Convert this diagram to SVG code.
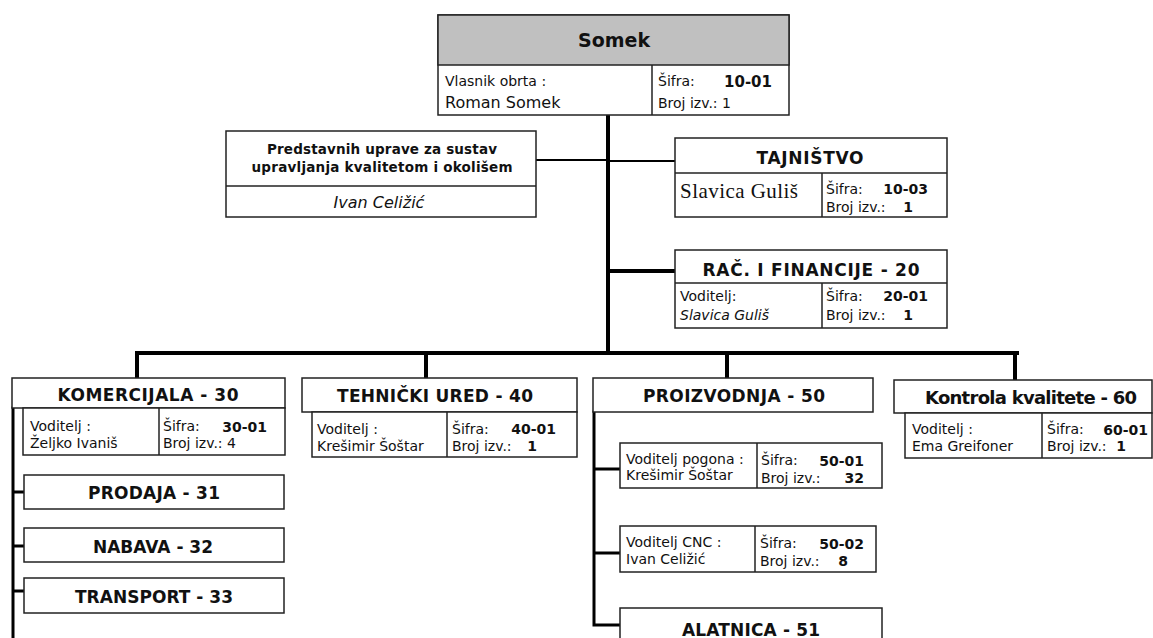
<svg xmlns="http://www.w3.org/2000/svg" width="1153" height="638" viewBox="0 0 1153 638">
<style>
.b{fill:#fff;stroke:#222;stroke-width:1.5}
.ln{fill:none;stroke:#222;stroke-width:1.5}
.c{fill:none;stroke:#000;stroke-linecap:square}
.w4{stroke-width:4}
.w3{stroke-width:3}
.w2{stroke-width:2}
text{font-family:"DejaVu Sans",Verdana,sans-serif;fill:#111}
.h{font-size:17px;font-weight:bold;text-anchor:middle}
.s{font-size:14px}
.k{font-size:14px;font-weight:bold;text-anchor:end}
</style>
<g id="connectors">
<path class="c w4" d="M608 115V353M137 353H1017M137 353V378M426 353V378M727 353V378M1015 353V380M608 271H675"/>
<path class="c w2" d="M536 160H608M608 161H675"/>
<path class="c w3" d="M13 408V638M13 492H24M13 546H24M13 591H24M594 412V625H620M594 469H620M594 553H620"/>
</g>
<g id="somek">
<rect x="438" y="15" width="351" height="100" class="b"/>
<rect x="438" y="15" width="351" height="50" fill="#c0c0c0" stroke="#222" stroke-width="1.5"/>
<line x1="652" y1="65" x2="652" y2="115" class="ln"/>
<text x="614" y="47" class="h" style="font-size:19px">Somek</text>
<text x="445" y="86" class="s">Vlasnik obrta :</text>
<text x="445" y="108" style="font-size:16px">Roman Somek</text>
<text x="658" y="86" class="s">Šifra:</text>
<text x="772" y="87" class="k" style="font-size:15px">10-01</text>
<text x="658" y="108" class="s">Broj izv.: 1</text>
</g>
<g id="predstavnik">
<rect x="226" y="131" width="310" height="86" class="b"/>
<line x1="226" y1="186" x2="536" y2="186" class="ln"/>
<text x="382" y="154" class="h" style="font-size:13.5px" textLength="230">Predstavnih uprave za sustav</text>
<text x="382" y="172" class="h" style="font-size:13.5px" textLength="261">upravljanja kvalitetom i okolišem</text>
<text x="379" y="208" style="font-size:16px;font-style:italic;text-anchor:middle">Ivan Celižić</text>
</g>
<g id="tajnistvo">
<rect x="675" y="138" width="272" height="79" class="b"/>
<line x1="675" y1="173" x2="947" y2="173" class="ln"/>
<line x1="822" y1="173" x2="822" y2="217" class="ln"/>
<text x="810" y="164" class="h" textLength="107">TAJNIŠTVO</text>
<text x="680" y="198" style="font-family:'Liberation Serif',serif;font-size:21px" textLength="118">Slavica Guliš</text>
<text x="826" y="194" class="s">Šifra:</text>
<text x="928" y="194" class="k">10-03</text>
<text x="826" y="212" class="s">Broj izv.:</text>
<text x="913" y="212" class="k">1</text>
</g>
<g id="racunovodstvo">
<rect x="675" y="250" width="272" height="78" class="b"/>
<line x1="675" y1="283" x2="947" y2="283" class="ln"/>
<line x1="822" y1="283" x2="822" y2="328" class="ln"/>
<text x="811" y="276" class="h" textLength="217">RAČ. I  FINANCIJE - 20</text>
<text x="680" y="301" class="s">Voditelj:</text>
<text x="680" y="320" style="font-style:italic;font-size:14px">Slavica Guliš</text>
<text x="826" y="301" class="s">Šifra:</text>
<text x="928" y="301" class="k">20-01</text>
<text x="826" y="320" class="s">Broj izv.:</text>
<text x="913" y="320" class="k">1</text>
</g>
<g id="komercijala">
<rect x="12" y="378" width="273" height="30" class="b"/>
<rect x="23" y="408" width="262" height="47" class="b"/>
<line x1="159" y1="408" x2="159" y2="455" class="ln"/>
<text x="148" y="401" class="h" textLength="181">KOMERCIJALA - 30</text>
<text x="30" y="431" class="s">Voditelj :</text>
<text x="30" y="448" class="s">Željko Ivaniš</text>
<text x="163" y="431" class="s">Šifra:</text>
<text x="267" y="432" class="k">30-01</text>
<text x="163" y="448" class="s">Broj izv.: 4</text>
</g>
<g id="prodaja">
<rect x="24" y="475" width="260" height="34" class="b"/>
<text x="154" y="499" class="h" textLength="132">PRODAJA - 31</text>
</g>
<g id="nabava">
<rect x="24" y="528" width="260" height="34" class="b"/>
<text x="153" y="553" class="h" textLength="120">NABAVA - 32</text>
</g>
<g id="transport">
<rect x="24" y="578" width="260" height="35" class="b"/>
<text x="154" y="603" class="h" textLength="158">TRANSPORT - 33</text>
</g>
<g id="tehnicki">
<rect x="302" y="378" width="275" height="34" class="b"/>
<rect x="312" y="412" width="265" height="45" class="b"/>
<line x1="447" y1="412" x2="447" y2="457" class="ln"/>
<text x="435" y="402" class="h" textLength="196">TEHNIČKI URED - 40</text>
<text x="317" y="434" class="s">Voditelj :</text>
<text x="317" y="451" class="s">Krešimir Šoštar</text>
<text x="452" y="434" class="s">Šifra:</text>
<text x="556" y="434" class="k">40-01</text>
<text x="452" y="451" class="s">Broj izv.:</text>
<text x="537" y="451" class="k">1</text>
</g>
<g id="proizvodnja">
<rect x="593" y="378" width="280" height="34" class="b"/>
<text x="734" y="402" class="h" textLength="182">PROIZVODNJA - 50</text>
</g>
<g id="pogon">
<rect x="620" y="443" width="262" height="45" class="b"/>
<line x1="757" y1="443" x2="757" y2="488" class="ln"/>
<text x="626" y="464" class="s">Voditelj pogona :</text>
<text x="626" y="480" class="s">Krešimir Šoštar</text>
<text x="761" y="465" class="s">Šifra:</text>
<text x="864" y="466" class="k">50-01</text>
<text x="761" y="483" class="s">Broj izv.:</text>
<text x="864" y="483" class="k">32</text>
</g>
<g id="cnc">
<rect x="620" y="526" width="256" height="46" class="b"/>
<line x1="755" y1="526" x2="755" y2="572" class="ln"/>
<text x="626" y="547" class="s">Voditelj CNC :</text>
<text x="626" y="564" class="s">Ivan Celižić</text>
<text x="760" y="548" class="s">Šifra:</text>
<text x="864" y="549" class="k">50-02</text>
<text x="760" y="566" class="s">Broj izv.:</text>
<text x="848" y="566" class="k">8</text>
</g>
<g id="alatnica">
<rect x="620" y="608" width="262" height="40" class="b"/>
<text x="751" y="636" class="h" textLength="138">ALATNICA - 51</text>
</g>
<g id="kontrola">
<rect x="894" y="380" width="258" height="33" class="b"/>
<rect x="905" y="413" width="247" height="45" class="b"/>
<line x1="1042" y1="413" x2="1042" y2="458" class="ln"/>
<text x="1031" y="404" class="h" style="font-size:18px" textLength="212">Kontrola kvalitete - 60</text>
<text x="912" y="434" class="s">Voditelj :</text>
<text x="912" y="451" class="s">Ema Greifoner</text>
<text x="1047" y="434" class="s">Šifra:</text>
<text x="1148" y="435" class="k">60-01</text>
<text x="1047" y="451" class="s">Broj izv.:</text>
<text x="1126" y="451" class="k">1</text>
</g>
</svg>
